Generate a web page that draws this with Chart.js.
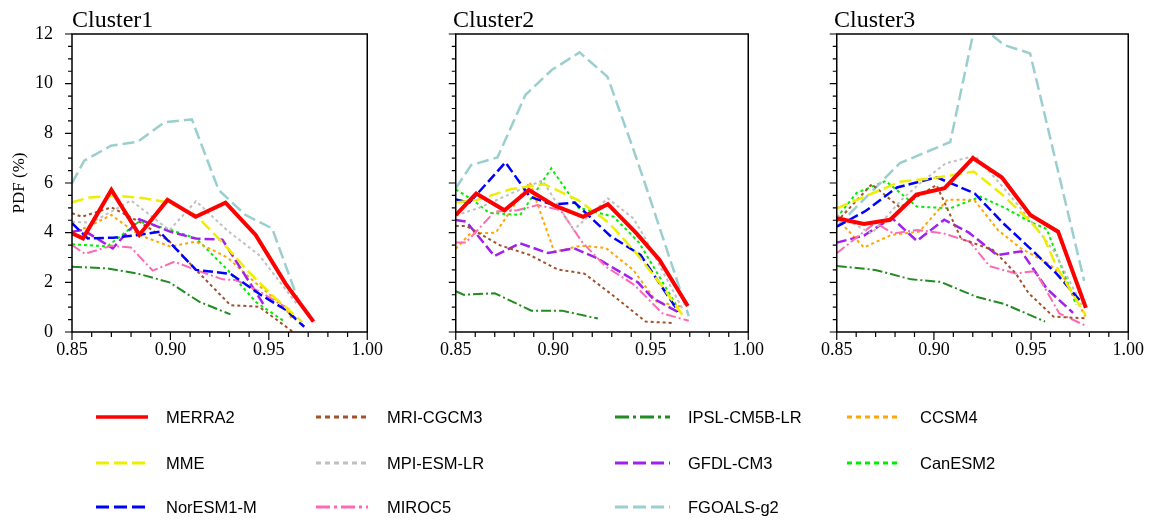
<!DOCTYPE html>
<html>
<head>
<meta charset="utf-8">
<script src="https://cdn.jsdelivr.net/npm/chart.js"></script>
<style>
  body { margin: 0; background: #fff; }
  #wrap { position: relative; width: 1151px; height: 520px; overflow: hidden; }
  canvas { position: absolute; top: 0; }
  .ttl { position: absolute; top: 7px; font: 24px/24px "Liberation Serif", "Times New Roman", serif; color: #000; }
  .lg { position: absolute; font: 16.5px/20px "Liberation Sans", Arial, sans-serif; color: #000; white-space: nowrap; }
  #lgsvg { position: absolute; left: 0; top: 0; }
</style>
</head>
<body>
<div id="wrap">
  <canvas id="c1" width="390" height="365" style="left:0px"></canvas>
  <canvas id="c2" width="338" height="365" style="left:433px"></canvas>
  <canvas id="c3" width="337" height="365" style="left:814px"></canvas>
  <div class="ttl" style="left:72px">Cluster1</div>
  <div class="ttl" style="left:453px">Cluster2</div>
  <div class="ttl" style="left:834px">Cluster3</div>
  <svg id="lgsvg" width="1151" height="520"></svg>
</div>
<script>
// series names, in draw order (first one ends up on top)
const seriesNames = ['MERRA2', 'MME', 'NorESM1-M', 'MRI-CGCM3', 'MPI-ESM-LR', 'MIROC5',
                     'IPSL-CM5B-LR', 'GFDL-CM3', 'FGOALS-g2', 'CCSM4', 'CanESM2'];
const xTicks = [0.85, 0.90, 0.95, 1.00];
const yTicks = [0, 2, 4, 6, 8, 10, 12];

// Cluster1  [x, PDF %]
const merra2_c1 = [[0.85,3.97],[0.8556,3.77],[0.870,5.72],[0.8842,3.91],[0.8985,5.32],[0.9128,4.64],[0.928,5.21],[0.9433,3.91],[0.9584,1.96],[0.9727,0.42]];
const mme_c1 = [[0.85,5.22],[0.859,5.42],[0.8725,5.48],[0.886,5.40],[0.8995,5.20],[0.913,4.70],[0.9265,3.60],[0.940,2.40],[0.9535,1.35],[0.967,0.40]];
const noresm_c1 = [[0.85,4.38],[0.858,3.77],[0.871,3.80],[0.884,3.91],[0.8945,4.04],[0.913,2.5],[0.9306,2.34],[0.9458,1.5],[0.9585,0.9],[0.968,0.21]];
const mri_c1 = [[0.85,4.78],[0.855,4.64],[0.870,5.02],[0.884,4.45],[0.8995,3.65],[0.913,2.5],[0.9305,1.08],[0.945,1.02],[0.962,0.02]];
const mpi_c1 = [[0.85,4.44],[0.860,4.40],[0.880,5.30],[0.8995,4.10],[0.913,5.27],[0.929,4.08],[0.945,3.10],[0.9645,1.1]];
const miroc_c1 = [[0.85,3.5],[0.8565,3.15],[0.870,3.47],[0.880,3.40],[0.891,2.47],[0.902,2.83],[0.913,2.5],[0.9265,2.12],[0.9335,2.09],[0.946,1.6],[0.9615,0.85]];
const ipsl_c1 = [[0.85,2.63],[0.868,2.56],[0.883,2.36],[0.8995,2.0],[0.9146,1.22],[0.9305,0.71]];
const gfdl_c1 = [[0.85,4.04],[0.8556,4.11],[0.8707,3.37],[0.8842,4.54],[0.8995,4.05],[0.913,3.76],[0.9264,3.72],[0.9373,2.36],[0.9475,1.09]];
const fgoals_c1 = [[0.85,5.99],[0.8562,6.9],[0.8698,7.5],[0.8834,7.66],[0.8970,8.45],[0.9109,8.56],[0.9245,5.72],[0.9380,4.72],[0.9517,4.17],[0.9652,1.22]];
const ccsm4_c1 = [[0.85,3.97],[0.858,4.24],[0.870,4.71],[0.884,3.91],[0.900,3.44],[0.9128,3.64],[0.929,3.0],[0.9435,1.96],[0.958,1.02],[0.962,0.5]];
const canesm_c1 = [[0.85,3.53],[0.868,3.45],[0.884,4.44],[0.8995,4.13],[0.913,3.77],[0.929,2.5],[0.9435,1.2],[0.9575,0.45]];

// Cluster2
const merra2_c2 = [[0.85,4.71],[0.8605,5.58],[0.875,4.9],[0.8875,5.72],[0.9005,5.1],[0.9153,4.64],[0.928,5.15],[0.9427,3.97],[0.9545,2.9],[0.969,1.05]];
const mme_c2 = [[0.85,5.22],[0.861,5.32],[0.878,5.75],[0.8955,5.95],[0.913,5.3],[0.9285,4.4],[0.9426,3.17],[0.956,1.83],[0.967,0.6]];
const noresm_c2 = [[0.85,5.34],[0.857,5.21],[0.8755,6.83],[0.888,5.45],[0.8995,5.13],[0.911,5.21],[0.9293,3.87],[0.9448,3.1],[0.9642,0.82]];
const mri_c2 = [[0.85,4.27],[0.8555,4.27],[0.8725,3.5],[0.888,3.1],[0.9022,2.52],[0.916,2.35],[0.931,1.45],[0.9474,0.42],[0.962,0.36]];
const mpi_c2 = [[0.85,4.69],[0.862,5.0],[0.879,5.6],[0.8945,6.1],[0.9105,4.11],[0.928,5.38],[0.941,4.58],[0.947,3.8],[0.9665,0.9]];
const miroc_c2 = [[0.85,3.6],[0.8552,3.6],[0.870,4.85],[0.8815,4.9],[0.892,5.11],[0.9037,4.91],[0.915,3.6],[0.927,2.63],[0.9415,1.9],[0.956,0.75],[0.9695,0.45]];
const ipsl_c2 = [[0.85,1.64],[0.854,1.5],[0.870,1.56],[0.8888,0.86],[0.9045,0.86],[0.9229,0.54]];
const gfdl_c2 = [[0.85,4.51],[0.8555,4.44],[0.8698,3.06],[0.883,3.57],[0.8973,3.18],[0.9106,3.37],[0.9225,2.97],[0.9325,2.5],[0.9434,2.0],[0.951,1.36],[0.9645,0.78]];
const fgoals_c2 = [[0.85,5.79],[0.8579,6.72],[0.8714,7.03],[0.8857,9.54],[0.8992,10.55],[0.9135,11.26],[0.9278,10.28],[0.9412,7.33],[0.9476,5.85],[0.9695,0.64]];
const ccsm4_c2 = [[0.85,3.35],[0.8575,3.97],[0.8705,4.0],[0.888,6.03],[0.9005,3.23],[0.9143,3.48],[0.927,3.38],[0.941,2.5],[0.953,1.22],[0.9655,1.03]];
const canesm_c2 = [[0.85,5.74],[0.859,5.3],[0.867,4.8],[0.883,4.71],[0.899,6.59],[0.913,5.0],[0.931,4.64],[0.944,3.6],[0.9637,1.0]];

// Cluster3
const merra2_c3 = [[0.85,4.58],[0.864,4.35],[0.8775,4.52],[0.891,5.53],[0.9055,5.79],[0.9201,7.0],[0.935,6.22],[0.9496,4.71],[0.9639,4.04],[0.9782,0.97]];
const mme_c3 = [[0.85,4.98],[0.8825,6.05],[0.9,6.2],[0.9205,6.46],[0.9354,5.52],[0.9497,4.44],[0.9564,3.84],[0.9631,2.63],[0.978,0.68]];
const noresm_c3 = [[0.85,4.24],[0.865,4.88],[0.881,5.82],[0.9015,6.23],[0.921,5.58],[0.9354,4.4],[0.9488,3.42],[0.9631,2.35],[0.9757,1.22]];
const mri_c3 = [[0.85,4.44],[0.868,5.95],[0.8825,5.02],[0.9013,5.92],[0.914,3.75],[0.9305,3.3],[0.9421,2.36],[0.9488,1.56],[0.9615,0.62],[0.978,0.55]];
const mpi_c3 = [[0.85,4.7],[0.868,3.97],[0.883,5.3],[0.893,6.0],[0.906,6.79],[0.9212,7.1],[0.9354,5.85],[0.9497,4.5],[0.9623,3.2],[0.976,1.1]];
const miroc_c3 = [[0.85,3.17],[0.8698,4.4],[0.879,3.97],[0.8916,4.11],[0.905,3.97],[0.9184,3.64],[0.9287,2.65],[0.942,2.36],[0.9522,2.45],[0.9645,0.75],[0.9774,0.28]];
const ipsl_c3 = [[0.85,2.66],[0.8698,2.5],[0.8883,2.12],[0.9034,2.02],[0.9218,1.42],[0.9365,1.12],[0.9572,0.42]];
const gfdl_c3 = [[0.85,3.6],[0.864,3.88],[0.8783,4.6],[0.8912,3.67],[0.9053,4.52],[0.918,4.0],[0.9325,3.1],[0.945,3.25],[0.958,1.75],[0.9716,0.77]];
const fgoals_c3 = [[0.85,4.24],[0.8825,6.8],[0.9084,7.65],[0.9215,12.5],[0.936,11.56],[0.9495,11.22],[0.9773,2.06]];
const ccsm4_c3 = [[0.85,4.58],[0.864,3.4],[0.878,3.91],[0.8925,4.04],[0.907,5.33],[0.9207,5.32],[0.933,4.1],[0.9447,3.37],[0.9589,2.76],[0.9665,2.23],[0.978,0.62]];
const canesm_c3 = [[0.85,4.6],[0.8602,5.6],[0.8752,6.08],[0.8912,5.05],[0.9084,4.98],[0.924,5.45],[0.9365,5.0],[0.9495,4.44],[0.958,4.15],[0.9732,1.1]];

const cluster1 = [merra2_c1, mme_c1, noresm_c1, mri_c1, mpi_c1, miroc_c1, ipsl_c1, gfdl_c1, fgoals_c1, ccsm4_c1, canesm_c1];
const cluster2 = [merra2_c2, mme_c2, noresm_c2, mri_c2, mpi_c2, miroc_c2, ipsl_c2, gfdl_c2, fgoals_c2, ccsm4_c2, canesm_c2];
const cluster3 = [merra2_c3, mme_c3, noresm_c3, mri_c3, mpi_c3, miroc_c3, ipsl_c3, gfdl_c3, fgoals_c3, ccsm4_c3, canesm_c3];

// styles
const lineColors = ['#ff0000', '#eeee00', '#0000ff', '#a0522d', '#c0c0c0', '#ff69b4',
                    '#228b22', '#a020f0', '#9bcfcf', '#ffa500', '#00ee00'];
const lineWidths = [4, 2.5, 2.5, 2, 2, 2, 2, 2.5, 2.5, 2, 2];
const lineDashes = [[], [12, 5], [10, 4], [3, 3], [3, 3], [10, 3, 2, 3],
                    [10, 3, 2, 3], [10, 4], [12, 5], [3, 3], [3, 3]];
const legendDashes = [[], [13, 5], [13, 5], [5, 4], [5, 4], [14, 4, 3, 4],
                      [14, 4, 3, 4], [13, 5], [13, 5], [5, 4], [5, 4]];

const serif = '"Liberation Serif", "Times New Roman", serif';

// frame box plus major/minor tick marks pointing outward
const frameTicks = {
    id: 'frameTicks',
    afterDraw(chart) {
        const { ctx, chartArea: a, scales: { x, y } } = chart;
        ctx.save();
        ctx.strokeStyle = '#000';
        ctx.lineWidth = 1.5;
        ctx.strokeRect(a.left, a.top, a.right - a.left, a.bottom - a.top);
        ctx.lineWidth = 1.2;
        ctx.beginPath();
        for (let i = 0; i <= 15; i++) {
            const px = x.getPixelForValue(0.85 + i * 0.01);
            const len = i % 5 === 0 ? 8 : 5;
            ctx.moveTo(px, a.bottom);
            ctx.lineTo(px, a.bottom + len);
        }
        for (let i = 0; i <= 24; i++) {
            const py = y.getPixelForValue(i * 0.5);
            const len = i % 4 === 0 ? 7 : 4;
            ctx.moveTo(a.left, py);
            ctx.lineTo(a.left - len, py);
        }
        ctx.stroke();
        ctx.restore();
    }
};

function makePanel(id, clusterData, showY) {
    const datasets = clusterData.map((pts, i) => ({
        label: seriesNames[i],
        data: pts,
        borderColor: lineColors[i],
        borderWidth: lineWidths[i],
        borderDash: lineDashes[i],
        pointRadius: 0,
        tension: 0,
        fill: false,
        clip: 0,
    }));
    return new Chart(document.getElementById(id), {
        type: 'line',
        data: { datasets: datasets },
        options: {
            responsive: false,
            animation: false,
            events: [],
            layout: { padding: { top: 34, right: 20, left: 0, bottom: 0 } },
            plugins: { legend: { display: false }, tooltip: { enabled: false } },
            scales: {
                x: {
                    type: 'linear', min: 0.85, max: 1.0,
                    afterBuildTicks: s => { s.ticks = xTicks.map(v => ({ value: v })); },
                    afterFit: s => { s.height = 33; },
                    grid: { display: false, drawTicks: false },
                    border: { display: false },
                    ticks: {
                        padding: 7, color: '#000', maxRotation: 0,
                        font: { family: serif, size: 18 },
                        callback: v => v.toFixed(2),
                    },
                },
                y: {
                    min: 0, max: 12,
                    afterBuildTicks: s => { s.ticks = yTicks.map(v => ({ value: v })); },
                    afterFit: s => { s.width = showY ? 72 : 20; },
                    grid: { display: false, drawTicks: false },
                    border: { display: false },
                    title: {
                        display: showY, text: 'PDF (%)', color: '#000',
                        font: { family: serif, size: 17 }, padding: { top: 9, bottom: 0 },
                    },
                    ticks: {
                        display: showY, padding: 19, color: '#000',
                        font: { family: serif, size: 18 },
                    },
                },
            },
        },
        plugins: [frameTicks],
    });
}

makePanel('c1', cluster1, true);
makePanel('c2', cluster2, false);
makePanel('c3', cluster3, false);

// legend: 4 columns, filled row by row
const legendOrder = [0, 3, 6, 9, 1, 4, 7, 10, 2, 5, 8];
const colLineX = [[96, 148], [316, 368], [615, 670], [847, 901]];
const colTextX = [166, 387, 688, 920];
const rowY = [417, 463, 507];
const svg = document.getElementById('lgsvg');
const wrap = document.getElementById('wrap');
legendOrder.forEach((si, k) => {
    const col = k % 4, row = Math.floor(k / 4);
    const ln = document.createElementNS('http://www.w3.org/2000/svg', 'line');
    ln.setAttribute('x1', colLineX[col][0]);
    ln.setAttribute('x2', colLineX[col][1]);
    ln.setAttribute('y1', rowY[row]);
    ln.setAttribute('y2', rowY[row]);
    ln.setAttribute('stroke', lineColors[si]);
    ln.setAttribute('stroke-width', si === 0 ? 3.5 : 3);
    if (legendDashes[si].length) ln.setAttribute('stroke-dasharray', legendDashes[si].join(' '));
    svg.appendChild(ln);
    const t = document.createElement('div');
    t.className = 'lg';
    t.style.left = colTextX[col] + 'px';
    t.style.top = (rowY[row] - 10) + 'px';
    t.textContent = seriesNames[si];
    wrap.appendChild(t);
});
</script>
</body>
</html>
